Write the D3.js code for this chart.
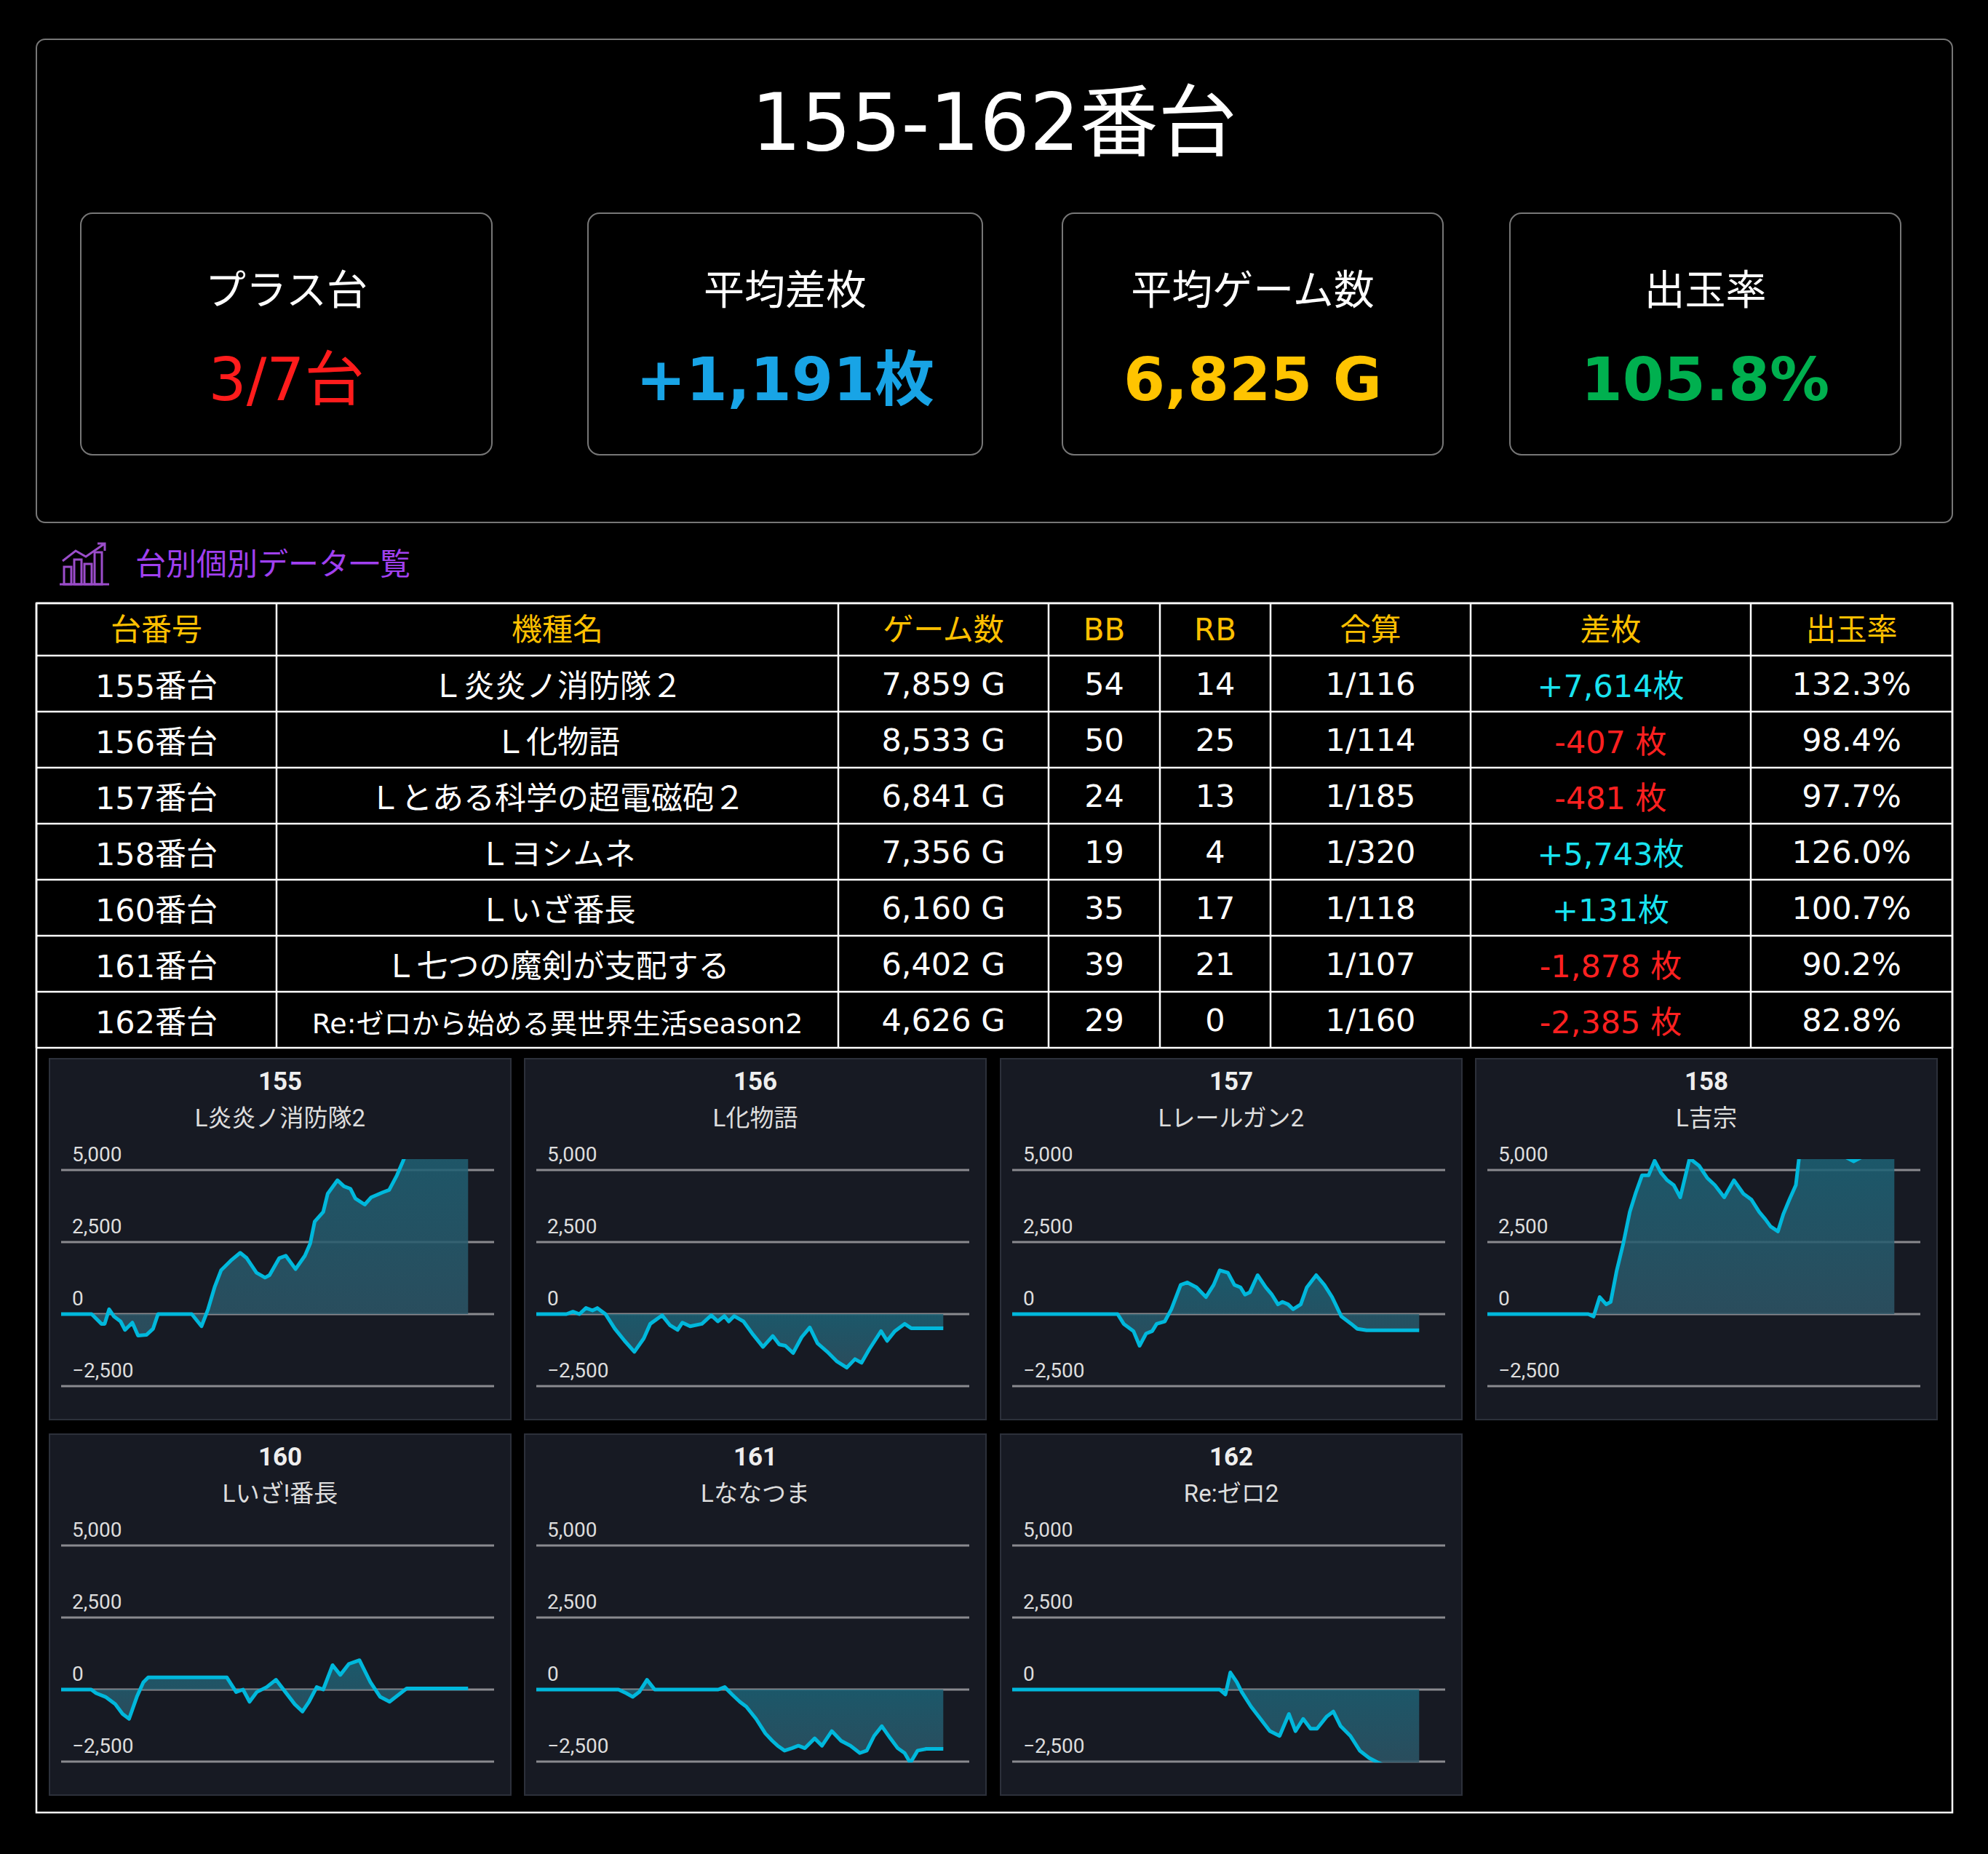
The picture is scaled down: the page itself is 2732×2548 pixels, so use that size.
<!DOCTYPE html>
<html><head><meta charset="utf-8">
<script src="https://cdn.jsdelivr.net/npm/d3@7/dist/d3.min.js"></script>
<style>body{margin:0;background:#000}svg{display:block}</style>
</head><body><svg id="c"></svg>
<script>
const W = 2732, H = 2548;
const title = "155-162番台";
const statLabels = ["プラス台", "平均差枚", "平均ゲーム数", "出玉率"];
const statValues = ["3/7台", "+1,191枚", "6,825 G", "105.8%"];
const statColors = ["#ff1c1c", "#18a4e6", "#ffc400", "#00b04f"];

const headers = ["台番号", "機種名", "ゲーム数", "BB", "RB", "合算", "差枚", "出玉率"];
const units = ["155番台", "156番台", "157番台", "158番台", "160番台", "161番台", "162番台"];
const machines = ["Ｌ炎炎ノ消防隊２", "Ｌ化物語", "Ｌとある科学の超電磁砲２", "Ｌヨシムネ", "Ｌいざ番長", "Ｌ七つの魔剣が支配する", "Re:ゼロから始める異世界生活season2"];
const games = ["7,859 G", "8,533 G", "6,841 G", "7,356 G", "6,160 G", "6,402 G", "4,626 G"];
const bb = [54, 50, 24, 19, 35, 39, 29];
const rb = [14, 25, 13, 4, 17, 21, 0];
const combined = ["1/116", "1/114", "1/185", "1/320", "1/118", "1/107", "1/160"];
const diffs = ["+7,614枚", "-407 枚", "-481 枚", "+5,743枚", "+131枚", "-1,878 枚", "-2,385 枚"];
const rates = ["132.3%", "98.4%", "97.7%", "126.0%", "100.7%", "90.2%", "82.8%"];

const chartIds = ["155", "156", "157", "158", "160", "161", "162"];
const chartNames = ["L炎炎ノ消防隊2", "L化物語", "Lレールガン2", "L吉宗", "Lいざ!番長", "Lななつま", "Re:ゼロ2"];
const yTicks = [5000, 2500, 0, -2500];
// [progress %, 差枚]
const s155 = [[0,0],[7.5,0],[9.9,-338],[10.7,-338],[11.8,169],[13,-84],[14.6,-253],[15.7,-549],[17.5,-296],[18.9,-743],[21,-718],[22.6,-507],[23.8,0],[32.1,0],[34.5,-422],[36.1,169],[37.7,929],[39.3,1520],[41.7,1858],[44,2128],[45.6,1943],[48,1436],[50.1,1267],[51.2,1351],[53.6,1943],[55.2,2027],[57.6,1562],[59.9,2027],[61.2,2449],[62.3,3209],[64.4,3547],[65.5,4180],[67.9,4645],[69.5,4434],[71.1,4349],[72.3,4012],[74.6,3800],[76.2,4054],[79,4223],[80.6,4307],[82.5,4814],[83.8,5237],[85.4,5800],[88.6,6500],[93.3,7200],[100,7614]];
const s156 = [[0,0],[7.4,0],[9,84],[10.6,0],[12.2,211],[13.8,127],[15,211],[17,0],[19.3,-507],[21.7,-929],[24.1,-1309],[26.4,-845],[28,-338],[30.9,-42],[32.8,-380],[34.7,-549],[35.9,-296],[37.8,-422],[40.7,-338],[43,-42],[44.6,-253],[46.2,-68],[47.3,-253],[48.6,-68],[50.9,-253],[53.3,-718],[55.7,-1140],[58.1,-760],[59.7,-1056],[61.2,-1098],[63.1,-1351],[65.2,-802],[67.2,-465],[69.1,-1013],[71.5,-1309],[73.9,-1647],[76.3,-1858],[78.3,-1562],[79.9,-1689],[81.8,-1225],[84.7,-591],[86.2,-929],[88.1,-591],[90.5,-338],[92.1,-490],[100,-490]];
const s157 = [[0,0],[25.9,0],[27.4,-338],[29.8,-591],[31.3,-1098],[32.9,-676],[34.4,-591],[35.5,-338],[37.5,-253],[39.1,169],[41.4,1013],[43,1098],[45.3,929],[47.6,591],[49.5,1013],[51,1520],[53,1436],[54.6,1013],[56.1,929],[57.2,676],[58.4,760],[60.3,1351],[62.3,929],[63.8,676],[65.3,338],[66.4,422],[67.8,338],[69,169],[70.9,338],[72.4,929],[74.7,1351],[76.7,1013],[78.6,591],[80.9,-84],[83.3,-338],[84.8,-510],[87.1,-560],[100,-560]];
const s158 = [[0,0],[24.8,0],[26.1,-84],[27.6,591],[29.2,338],[30.3,422],[31.8,1520],[33.4,2449],[35,3547],[36.5,4223],[38,4814],[39.6,4814],[41.1,5322],[42.7,4898],[44.2,4645],[45.8,4476],[47.4,4054],[49.7,5405],[52,5153],[54,4729],[55.9,4476],[58.2,4054],[60.6,4645],[62.9,4180],[64.9,3969],[66.8,3547],[68.3,3293],[69.6,3040],[71.4,2871],[72.7,3462],[74.2,3969],[75.8,4476],[76.9,5800],[80.7,6200],[86,5800],[88,5450],[90,5300],[94,5600],[100,5743]];
const s160 = [[0,0],[7.4,0],[8.6,-127],[10.9,-254],[13.3,-508],[15.1,-847],[16.7,-1017],[18.6,-254],[20.2,254],[21.4,424],[40.7,424],[43,-85],[44.7,0],[46.3,-424],[48.1,-85],[50.5,85],[52.8,339],[55.1,-85],[57.4,-508],[59.3,-763],[60.9,-424],[62.8,85],[64.4,0],[66.7,847],[68.6,508],[70.7,890],[73.3,1017],[76,254],[78.4,-254],[80.7,-424],[83,-170],[84.9,40],[100,40]];
const s161 = [[0,0],[20.2,0],[22.1,-127],[23.7,-254],[25.3,-85],[27.2,339],[29.1,0],[44.7,0],[46.3,85],[48.1,-170],[50,-424],[51.6,-593],[54,-1017],[56.3,-1525],[58,-1780],[59.3,-1949],[61,-2119],[62.8,-2034],[64.4,-1949],[66,-2034],[68.4,-1695],[70.2,-1949],[72.6,-1441],[74.9,-1780],[77.2,-1949],[79.5,-2203],[81.2,-2119],[83,-1610],[84.9,-1271],[87,-1695],[88.8,-2034],[90.5,-2203],[91.9,-2542],[93.7,-2119],[95.8,-2060],[100,-2060]];
const s162 = [[0,0],[51,0],[52.4,-170],[53.6,593],[55.2,254],[56.4,-85],[58.7,-593],[61,-1017],[63.3,-1441],[65.7,-1610],[68,-847],[69.6,-1441],[71.5,-1017],[73.3,-1356],[74.9,-1356],[77.3,-932],[78.9,-763],[80.7,-1271],[83.1,-1610],[85.4,-2119],[87.7,-2373],[90,-2542],[91.9,-2660],[100,-2700]];
const series = [s155, s156, s157, s158, s160, s161, s162];

const JP = '"DejaVu Sans","Noto Sans CJK JP",sans-serif';
const svg = d3.select("#c").attr("width", W).attr("height", H).style("background", "#000");

// summary panel
svg.append("rect").attr("x", 50).attr("y", 54).attr("width", 2633).attr("height", 664)
	.attr("rx", 12).attr("fill", "#000").attr("stroke", "#777").attr("stroke-width", 2);
svg.append("text").attr("x", 1366).attr("y", 206).attr("text-anchor", "middle")
	.attr("font-family", JP).attr("font-size", 108).attr("fill", "#fff").text(title);

const boxX = [[111, 676], [808, 1350], [1460, 1983], [2075, 2612]];
boxX.forEach(([x0, x1], i) => {
	const g = svg.append("g");
	g.append("rect").attr("x", x0).attr("y", 293).attr("width", x1 - x0).attr("height", 332)
		.attr("rx", 16).attr("fill", "#000").attr("stroke", "#777").attr("stroke-width", 2);
	g.append("text").attr("x", (x0 + x1) / 2).attr("y", 418).attr("text-anchor", "middle")
		.attr("font-family", JP).attr("font-size", 56).attr("fill", "#fff").text(statLabels[i]);
	g.append("text").attr("x", (x0 + x1) / 2).attr("y", 550).attr("text-anchor", "middle")
		.attr("font-family", JP).attr("font-size", i === 0 ? 82 : 82).attr("font-weight", i === 0 ? "normal" : "bold")
		.attr("fill", statColors[i]).text(statValues[i]);
});

// section heading with icon
const ic = svg.append("g").attr("transform", "translate(82,745)").attr("stroke", "#9b4dca").attr("fill", "none").attr("stroke-width", 3);
ic.append("path").attr("d", "M0,58 H68");
[[6, 34], [20, 24], [34, 30], [48, 14]].forEach(([x, y]) => ic.append("rect").attr("x", x).attr("y", y).attr("width", 10).attr("height", 58 - y));
ic.append("path").attr("d", "M4,26 L22,12 L36,20 L62,2 M52,2 H62 V12");
svg.append("text").attr("x", 186).attr("y", 790).attr("font-family", JP).attr("font-size", 42)
	.attr("fill", "#a040f0").text("台別個別データ一覧");

// table
const colX = [50, 380, 1152, 1441, 1594, 1746, 2021, 2406, 2683];
const tableTop = 829, headH = 72, rowH = 77;
const rowsY = d3.range(units.length + 1).map(i => i === 0 ? tableTop : tableTop + headH + (i - 1) * rowH);
const tableBottom = tableTop + headH + units.length * rowH;
svg.append("rect").attr("x", 50).attr("y", tableTop).attr("width", 2633).attr("height", 2491 - tableTop)
	.attr("fill", "none").attr("stroke", "#fff").attr("stroke-width", 2.5);
rowsY.concat([tableBottom]).forEach(y => svg.append("line").attr("x1", 50).attr("x2", 2683).attr("y1", y).attr("y2", y).attr("stroke", "#fff").attr("stroke-width", 2.5));
colX.forEach(x => svg.append("line").attr("x1", x).attr("x2", x).attr("y1", tableTop).attr("y2", tableBottom).attr("stroke", "#fff").attr("stroke-width", 2.5));
const cx = i => (colX[i] + colX[i + 1]) / 2;
headers.forEach((h, i) => svg.append("text").attr("x", cx(i)).attr("y", tableTop + headH / 2 + 15)
	.attr("text-anchor", "middle").attr("font-family", JP).attr("font-size", 42).attr("fill", "#ffc000").text(h));
units.forEach((u, r) => {
	const cells = [u, machines[r], games[r], bb[r], rb[r], combined[r], diffs[r], rates[r]];
	const y = tableTop + headH + r * rowH + rowH / 2 + 15;
	cells.forEach((v, i) => {
		let fill = "#fff";
		if (i === 6) fill = String(v).startsWith("+") ? "#19e3f0" : "#ff2020";
		svg.append("text").attr("x", cx(i)).attr("y", i === 0 || i === 1 || i === 6 ? y + 3 : y)
			.attr("text-anchor", "middle").attr("font-family", JP).attr("font-size", i === 1 && r === 6 ? 38 : 43)
			.attr("fill", fill).text(v);
	});
});

// mini charts
const panelX = [68, 721, 1375, 2028];
const panelY = [1455, 1971];
const pw = 634, ph = 496;
const defs = svg.append("defs");
const grad = defs.append("linearGradient").attr("id", "fillg").attr("x1", 0).attr("y1", 0).attr("x2", 0).attr("y2", 1);
grad.append("stop").attr("offset", 0).attr("stop-color", "#1a6478");
grad.append("stop").attr("offset", 1).attr("stop-color", "#2e5566");

series.forEach((data, k) => {
	const px = panelX[k % 4], py = panelY[Math.floor(k / 4)];
	const g = svg.append("g").attr("transform", `translate(${px},${py})`);
	g.append("rect").attr("width", pw).attr("height", ph).attr("fill", "#171a23").attr("stroke", "#2c303a").attr("stroke-width", 2);
	g.append("text").attr("x", pw / 2).attr("y", 43).attr("text-anchor", "middle").attr("font-family", "Roboto")
		.attr("font-weight", "bold").attr("font-size", 35).attr("fill", "#eee").text(chartIds[k]);
	g.append("text").attr("x", pw / 2).attr("y", 93).attr("text-anchor", "middle").attr("font-family", '"Roboto","Noto Sans CJK JP"')
		.attr("font-size", 33).attr("fill", "#ddd").text(chartNames[k]);
	const gx0 = 16, gx1 = 611;
	const y = d3.scaleLinear().domain([5000, -2500]).range([153, 450]);
	const x = d3.scaleLinear().domain([0, 100]).range([gx0, gx0 + (gx1 - gx0) * 0.94]);
	yTicks.forEach(t => {
		g.append("line").attr("x1", gx0).attr("x2", gx1).attr("y1", y(t)).attr("y2", y(t)).attr("stroke", "#8a8a8f").attr("stroke-width", 3);
		g.append("text").attr("x", gx0 + 15).attr("y", y(t) - 12).attr("font-family", "Roboto").attr("font-size", 28)
			.attr("fill", "#ddd").text(d3.format(",")(t));
	});
	const clipId = "clip" + k;
	defs.append("clipPath").attr("id", clipId).append("rect").attr("x", 0).attr("y", y(5380)).attr("width", pw).attr("height", y(-2530) - y(5380));
	const area = d3.area().x(d => x(d[0])).y0(y(0)).y1(d => y(d[1]));
	const line = d3.line().x(d => x(d[0])).y(d => y(d[1]));
	const cg = g.append("g").attr("clip-path", `url(#${clipId})`);
	cg.append("path").attr("d", area(data)).attr("fill", "url(#fillg)").attr("opacity", 0.85);
	cg.append("path").attr("d", line(data)).attr("fill", "none").attr("stroke", "#00b8dc").attr("stroke-width", 5).attr("stroke-linejoin", "round");
});
</script></body></html>
